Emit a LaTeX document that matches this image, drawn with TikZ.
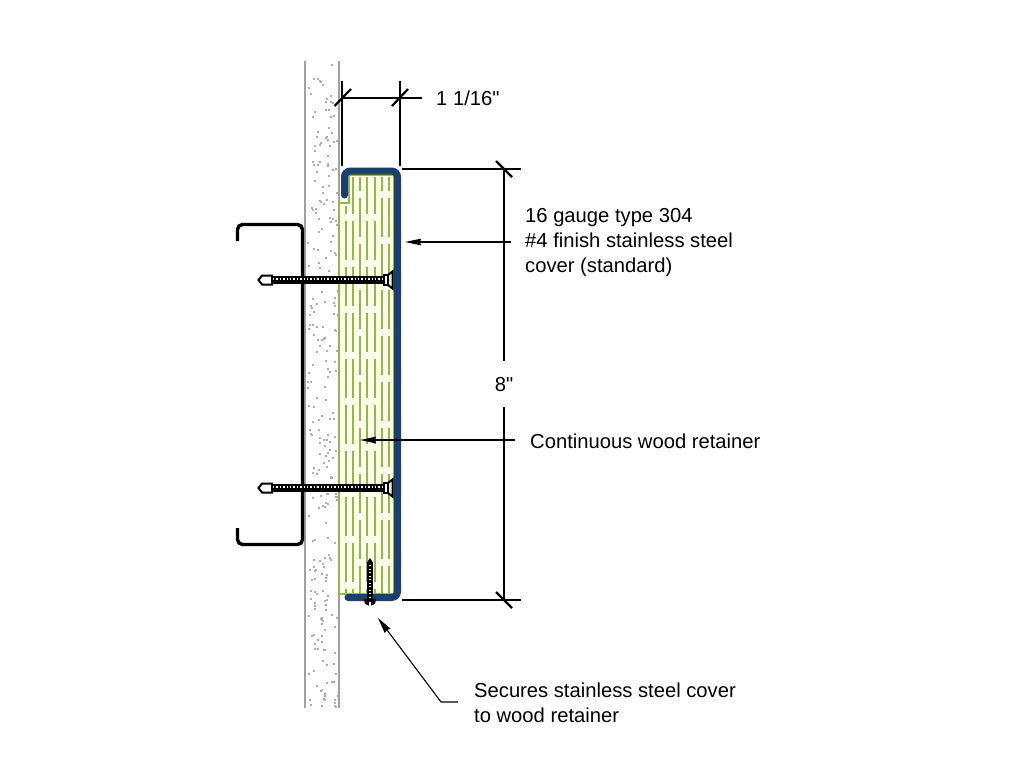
\documentclass[tikz,border=0pt]{standalone}
\usepackage{fontspec}
\setmainfont{Liberation Sans}[Ligatures=TeXOff]
\usetikzlibrary{arrows.meta}
\definecolor{steelblue}{HTML}{1B3F6E}
\definecolor{woodgreen}{HTML}{96B64A}
\definecolor{woodfill}{HTML}{FCFEEC}
\definecolor{wallgray}{HTML}{A0A0A0}
\tikzset{
	dimline/.style={line width=1.6pt, color=black},
	tickline/.style={line width=2.2pt, color=black},
	leader/.style={line width=1.5pt, color=black, -{Stealth[length=16pt,width=6.5pt,inset=1pt]}},
	thinleader/.style={line width=1.1pt, color=black, -{Stealth[length=16pt,width=7pt,inset=1pt]}},
	notetext/.style={font=\fontsize{20.2}{24.7}\selectfont, anchor=west, align=left, inner sep=0pt},
	wallline/.style={line width=2pt, color=wallgray},
	grain/.style={line width=2pt, color=woodgreen, dash pattern=on 39pt off 7pt},
}
\def\hscrew(#1,#2){
	\draw[line width=7.5pt, color=black] (272, #2) -- (386, #2);
	\draw[line width=2pt, color=white, dash pattern=on 1.4pt off 2pt] (273, #2-0.8) -- (384, #2-0.8);
	\draw[line width=2pt, fill=white] (272, #2-4.5) -- (262, #2-4.5) -- (258.5, #2) -- (262, #2+4.5) -- (272, #2+4.5) -- cycle;
	\draw[line width=2pt, fill=white] (384, #2-5) rectangle (388, #2+5);
	\draw[line width=2pt, fill=white] (388, #2-5) -- (392.5, #2-8.5) -- (392.5, #2+8.5) -- (388, #2+5) -- cycle;
}
\begin{document}
\begin{tikzpicture}[x=1pt, y=-1pt]
	\useasboundingbox[fill=white] (0, 0) rectangle (1030, 773);

	% wall
	\pgfmathsetseed{4217}
	\foreach \i in {1,...,270}{
		\pgfmathsetmacro{\px}{307+rnd*30}
		\pgfmathsetmacro{\py}{63+rnd*644}
		\fill[color=wallgray!85] (\px, \py) rectangle +(2, 2);
	}
	\draw[wallline] (305, 61) -- (305, 708);
	\draw[wallline] (339, 61) -- (339, 708);

	% wood retainer
	\draw[line width=2pt, color=woodgreen, fill=woodfill] (339, 203) -- (349, 203) -- (349, 175) -- (393.5, 175) -- (393.5, 594) -- (339, 594) -- cycle;
	\draw[grain, dash phase=31pt] (345.5, 206) -- (345.5, 593);
	\foreach \gx in {352.5, 367, 374.5}{
		\draw[grain, dash phase=2pt] (\gx, 177) -- (\gx, 593);
	}
	\foreach \gx in {359.5, 382, 388.5}{
		\draw[grain, dash phase=25pt] (\gx, 177) -- (\gx, 593);
	}

	% stainless cover
	\draw[line width=7pt, color=steelblue, rounded corners=6pt, line cap=round] (344.5, 195) -- (344.5, 171) -- (397.5, 171) -- (397.5, 597.5) -- (348, 597.5);

	% channel
	\draw[line width=3.4pt, color=black, rounded corners=5pt] (237.5, 241) -- (237.5, 224.5) -- (302.5, 224.5) -- (302.5, 544.5) -- (237.5, 544.5) -- (237.5, 528);

	% fasteners
	\hscrew(0,280)
	\hscrew(0,488)
	\draw[line width=6.5pt, color=black] (370, 563) -- (370, 600);
	\draw[line width=1.5pt, color=white, dash pattern=on 1.3pt off 2.2pt] (370, 565) -- (370, 597);
	\fill[color=black] (366.7, 563) -- (370, 558) -- (373.3, 563) -- cycle;
	\fill[color=black] (364, 599) -- (376, 599) .. controls (376, 604) and (373, 606) .. (370, 606) .. controls (367, 606) and (364, 604) .. (364, 599);
	\fill[color=white] (369, 602) rectangle (371, 606);

	% dimensions
	\draw[dimline] (342, 81) -- (342, 166);
	\draw[dimline] (400, 81) -- (400, 166);
	\draw[dimline] (342, 98) -- (422, 98);
	\draw[tickline] (334.5, 106) -- (351, 89);
	\draw[tickline] (392, 106) -- (408, 89);
	\node[notetext] (widthlabel) at (436, 98) {1 1/16"};

	\draw[dimline] (402, 169) -- (521, 169);
	\draw[dimline] (402, 600) -- (521, 600);
	\node[notetext, anchor=center] (heightlabel) at (504, 385) {8"};
	\draw[dimline] (504, 361) -- (504, 169);
	\draw[dimline] (504, 407) -- (504, 600);
	\draw[tickline] (496, 161) -- (512, 177);
	\draw[tickline] (496, 592) -- (512, 608);

	% notes
	\node[notetext] (coverlabel) at (525, 242.7) {16 gauge type 304\\\#4 finish stainless steel\\cover (standard)};
	\node[notetext] (woodlabel) at (530, 441) {Continuous wood retainer};
	\node[notetext] (screwlabel) at (474, 703) {Secures stainless steel cover\\to wood retainer};
	\coordinate (coverpoint) at (405, 242);
	\coordinate (coverstart) at (511, 242);
	\coordinate (woodpoint) at (360, 440);
	\coordinate (woodstart) at (515, 440);
	\coordinate (screwpoint) at (378, 618);
	\coordinate (screwstart) at (458, 702);
	\draw[leader] (coverstart) -- (coverpoint);
	\draw[leader] (woodstart) -- (woodpoint);
	\draw[thinleader] (screwstart) -- (441, 702) -- (screwpoint);
\end{tikzpicture}
\end{document}
